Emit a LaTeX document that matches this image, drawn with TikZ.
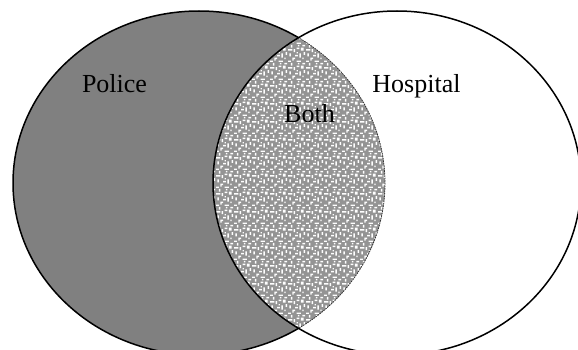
\documentclass[tikz,border=0pt]{standalone}
\usepackage{fontspec}
\setmainfont{Liberation Serif}
\usetikzlibrary{patterns}
\pgfdeclarepatternformonly{noisy}{\pgfpointorigin}{\pgfqpoint{18pt}{18pt}}{\pgfqpoint{18pt}{18pt}}{%
  \pgfpathrectangle{\pgfqpoint{0pt}{0pt}}{\pgfqpoint{3pt}{1.5pt}}%
  \pgfpathrectangle{\pgfqpoint{4.5pt}{1.5pt}}{\pgfqpoint{1.5pt}{3pt}}%
  \pgfpathrectangle{\pgfqpoint{9pt}{0pt}}{\pgfqpoint{4.5pt}{1.5pt}}%
  \pgfpathrectangle{\pgfqpoint{15pt}{3pt}}{\pgfqpoint{1.5pt}{1.5pt}}%
  \pgfpathrectangle{\pgfqpoint{1.5pt}{6pt}}{\pgfqpoint{1.5pt}{3pt}}%
  \pgfpathrectangle{\pgfqpoint{7.5pt}{6pt}}{\pgfqpoint{3pt}{1.5pt}}%
  \pgfpathrectangle{\pgfqpoint{12pt}{4.5pt}}{\pgfqpoint{1.5pt}{4.5pt}}%
  \pgfpathrectangle{\pgfqpoint{16.5pt}{7.5pt}}{\pgfqpoint{1.5pt}{3pt}}%
  \pgfpathrectangle{\pgfqpoint{0pt}{12pt}}{\pgfqpoint{4.5pt}{1.5pt}}%
  \pgfpathrectangle{\pgfqpoint{6pt}{10.5pt}}{\pgfqpoint{1.5pt}{3pt}}%
  \pgfpathrectangle{\pgfqpoint{9pt}{13.5pt}}{\pgfqpoint{3pt}{1.5pt}}%
  \pgfpathrectangle{\pgfqpoint{13.5pt}{12pt}}{\pgfqpoint{3pt}{3pt}}%
  \pgfpathrectangle{\pgfqpoint{3pt}{15pt}}{\pgfqpoint{1.5pt}{3pt}}%
  \pgfpathrectangle{\pgfqpoint{15pt}{16.5pt}}{\pgfqpoint{3pt}{1.5pt}}%
  \pgfpathrectangle{\pgfqpoint{9pt}{9pt}}{\pgfqpoint{1.5pt}{1.5pt}}%
  \pgfpathrectangle{\pgfqpoint{6pt}{3pt}}{\pgfqpoint{1.5pt}{1.5pt}}%
  \pgfpathrectangle{\pgfqpoint{10.5pt}{16.5pt}}{\pgfqpoint{1.5pt}{1.5pt}}%
  \pgfusepath{fill}}
\begin{document}
\begin{tikzpicture}[x=1pt,y=-1pt,
  outline/.style={draw=black,line width=1.5pt},
  lbl/.style={font=\fontsize{26}{30}\selectfont,inner sep=0pt,anchor=base}]
\useasboundingbox (0,0) rectangle (578,350);
\clip (0,0) rectangle (578,350);
% left set
\fill[gray] (199,183) ellipse [x radius=186, y radius=172];
% intersection
\begin{scope}
  \clip (199,183) ellipse [x radius=186, y radius=172];
  \fill[color={rgb,255:red,148;green,148;blue,148}] (397,183) ellipse [x radius=184, y radius=172];
  \fill[pattern=noisy,pattern color=white] (397,183) ellipse [x radius=184, y radius=172];
\end{scope}
% left outline outside right ellipse
\begin{scope}[even odd rule]
  \clip (-10,-10) rectangle (590,360) (397,183) ellipse [x radius=184, y radius=172];
  \draw[outline] (199,183) ellipse [x radius=186, y radius=172];
\end{scope}
% left outline inside right ellipse (faint)
\begin{scope}
  \clip (397,183) ellipse [x radius=184, y radius=172];
  \draw[black!80,line width=0.8pt,dash pattern=on 1.5pt off 1pt] (199,183) ellipse [x radius=186, y radius=172];
\end{scope}
\draw[outline] (397,183) ellipse [x radius=184, y radius=172];
\node[lbl] (police) at (114.5,93) {Police};
\node[lbl] (hospital) at (416.5,93) {Hospital};
\node[lbl] (both) at (309.5,123) {Both};
\end{tikzpicture}
\end{document}
